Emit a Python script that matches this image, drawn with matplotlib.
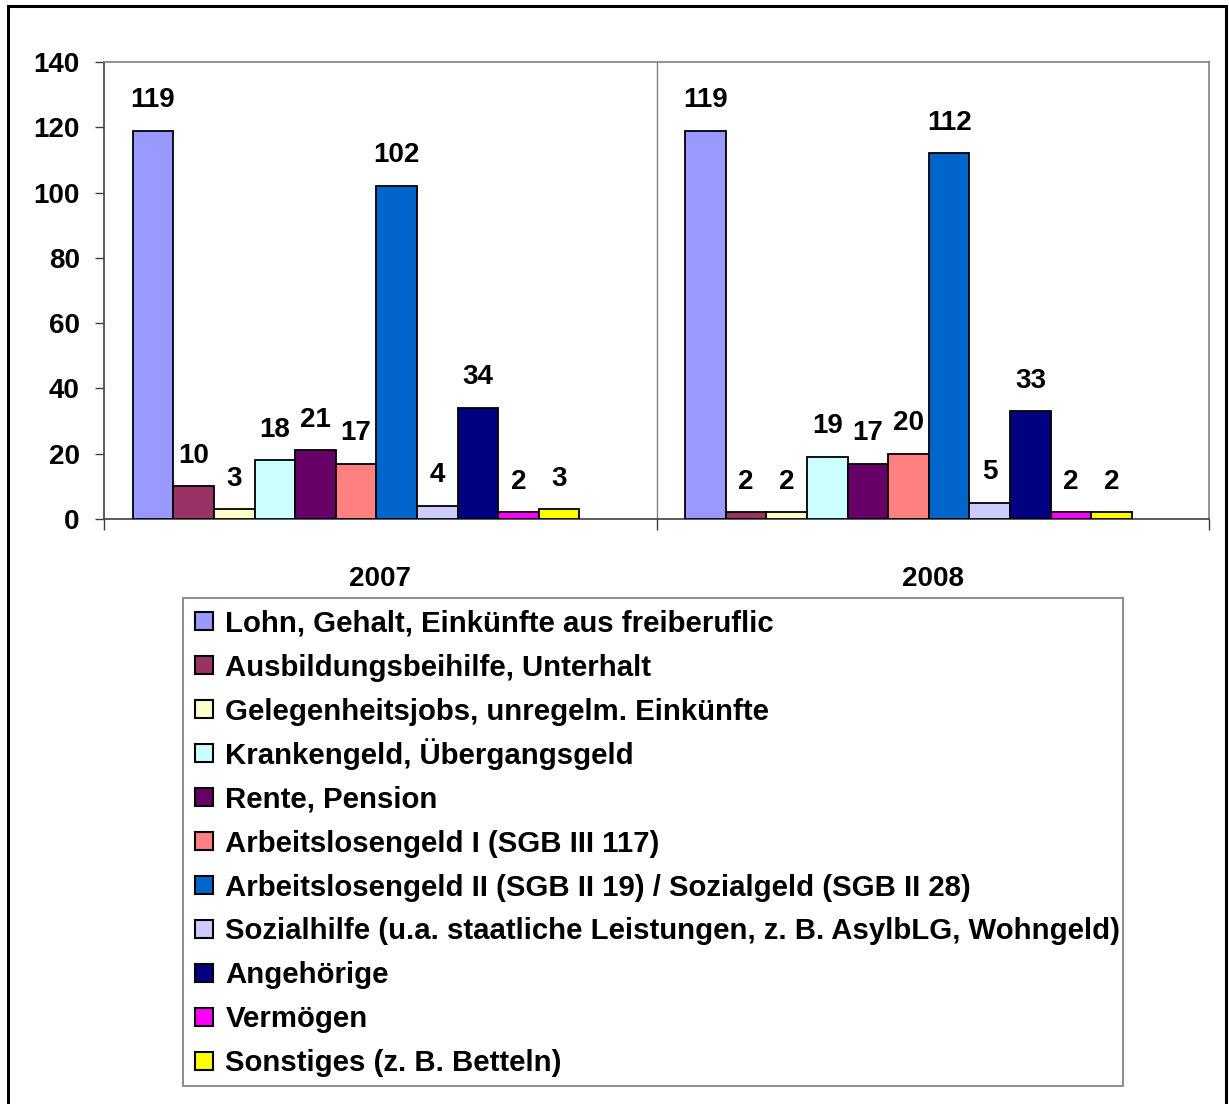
import matplotlib
matplotlib.use("Agg")
import matplotlib.pyplot as plt
from matplotlib.legend_handler import HandlerBase
from matplotlib.patches import Rectangle, Patch
import numpy as np

plt.rcParams['font.family'] = ['Liberation Sans', 'DejaVu Sans']
plt.rcParams['font.weight'] = 'bold'

categories = ['2007', '2008']
series_names = [
    'Lohn, Gehalt, Einkünfte aus freiberuflic',
    'Ausbildungsbeihilfe, Unterhalt',
    'Gelegenheitsjobs, unregelm. Einkünfte',
    'Krankengeld, Übergangsgeld',
    'Rente, Pension',
    'Arbeitslosengeld I (SGB III 117)',
    'Arbeitslosengeld II (SGB II 19) / Sozialgeld (SGB II 28)',
    'Sozialhilfe (u.a. staatliche Leistungen, z. B. AsylbLG, Wohngeld)',
    'Angehörige',
    'Vermögen',
    'Sonstiges (z. B. Betteln)',
]
values_2007 = [119, 10, 3, 18, 21, 17, 102, 4, 34, 2, 3]
values_2008 = [119, 2, 2, 19, 17, 20, 112, 5, 33, 2, 2]
colors = ['#9999FF', '#993366', '#FFFFCC', '#CCFFFF', '#660066', '#FF8080',
          '#0066CC', '#CCCCFF', '#000080', '#FF00FF', '#FFFF00']
yticks = [0, 20, 40, 60, 80, 100, 120, 140]

W, H = 1229, 1104
fig = plt.figure(figsize=(W / 100, H / 100), dpi=100)
ax = fig.add_axes([104 / W, 1 - 519 / H, (1209 - 104) / W, (519 - 62) / H])

data = np.array([values_2007, values_2008])
n = len(series_names)
bw = 0.0735
start = 0.052
cat_x = np.arange(len(categories))
for j in range(n):
    xs = cat_x - 0.5 + start + (j + 0.5) * bw
    ax.bar(xs, data[:, j], width=bw, color=colors[j], edgecolor='black',
           linewidth=1.3, zorder=3)
    for x, v in zip(xs, data[:, j]):
        ax.annotate(str(v), (x, v), xytext=(0, 17), textcoords='offset points',
                    ha='center', va='baseline', fontsize=20, fontweight='bold')

ax.set_xlim(-0.5, 1.5)
ax.set_ylim(0, 140)
ax.set_yticks(yticks)
ax.set_yticklabels([str(t) for t in yticks])
ax.tick_params(axis='y', direction='out', length=6.5, width=1, color='#404040',
               pad=11, labelsize=20)
ax.set_xticks([-0.5, 0.5, 1.5])
ax.set_xticklabels(['', '', ''])
ax.tick_params(axis='x', which='major', direction='out', length=8, width=1, color='#404040')
ax.set_xticks(cat_x, minor=True)
ax.set_xticklabels(categories, minor=True)
ax.tick_params(axis='x', which='minor', length=0, pad=34, labelsize=20)
ax.axvline(0.5, color='#808080', linewidth=1, zorder=1)

for s in ['left', 'bottom']:
    ax.spines[s].set_color('#404040')
    ax.spines[s].set_linewidth(1.2)
for s in ['top', 'right']:
    ax.spines[s].set_color('#808080')
    ax.spines[s].set_linewidth(1.2)


class SquareHandler(HandlerBase):
    def create_artists(self, legend, orig_handle, xdescent, ydescent, width,
                       height, fontsize, trans):
        s = 0.62 * fontsize
        x0 = -xdescent + (width - s) / 2
        y0 = 0.36 * fontsize - s / 2
        r = Rectangle((x0, y0), s, s, facecolor=orig_handle.get_facecolor(),
                      edgecolor='black', linewidth=1.5, transform=trans)
        return [r]


handles = [Patch(facecolor=c) for c in colors]
leg = fig.legend(handles, series_names, loc='upper left',
                 bbox_to_anchor=(183 / W, 1 - 598 / H), borderaxespad=0,
                 prop={'size': 21.2, 'weight': 'bold'}, frameon=True, fancybox=False,
                 handlelength=1.28, handleheight=1.92, handletextpad=0.08,
                 labelspacing=0.0, borderpad=0.08,
                 handler_map={Patch: SquareHandler()})
leg.get_frame().set_edgecolor('#707070')
leg.get_frame().set_linewidth(1.4)

fig.patches.append(Rectangle((8 / W, -0.01), (1226 - 8) / W, 1.01 - 6 / H,
                             transform=fig.transFigure, fill=False,
                             edgecolor='black', linewidth=2.2))

fig.savefig('out.png', dpi=100)
